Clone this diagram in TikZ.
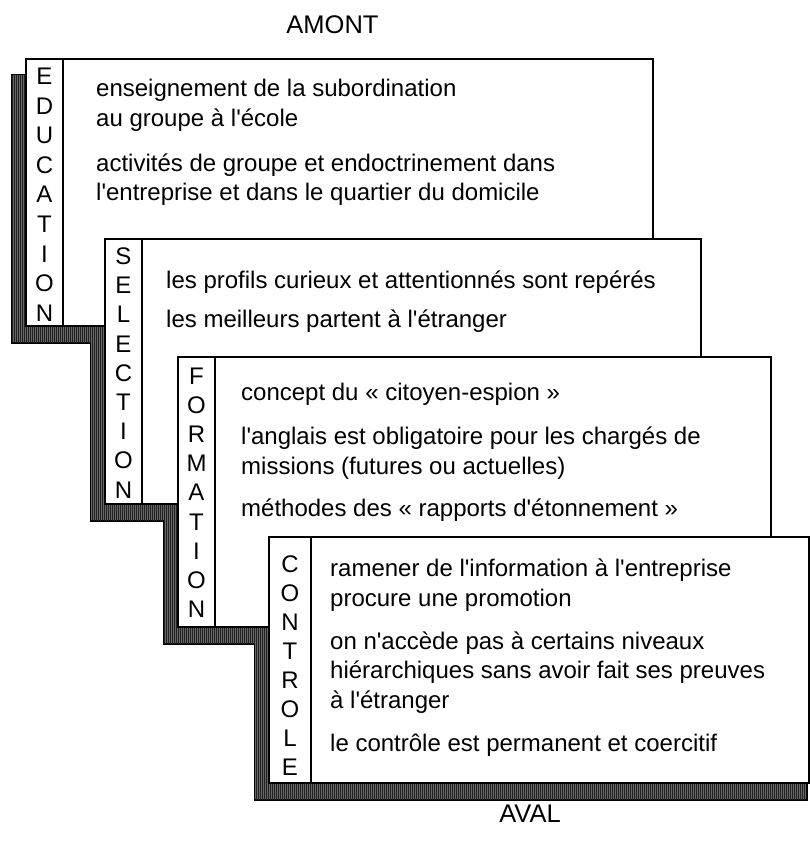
\documentclass[tikz,border=0pt]{standalone}
\usepackage{fontspec}
\newfontfamily\arialike{Liberation Sans}
\usetikzlibrary{patterns.meta}
\definecolor{shadegray}{HTML}{666666}
\definecolor{shadeline}{HTML}{222222}
\begin{document}
\begin{tikzpicture}[x=1pt,y=-1pt,
  cardframe/.style={draw=black, line width=2pt, fill=white},
  colrule/.style={draw=black, line width=1.6pt},
  shadowedge/.style={draw=black, line width=3pt},
  shadowfill/.style={fill=shadegray, postaction={pattern={Lines[angle=90,distance=2pt,line width=1pt]}, pattern color=shadeline}},
  bodyline/.style={anchor=base west, inner sep=0pt, font=\arialike\fontsize{24}{29}\selectfont},
  colletter/.style={anchor=base, inner sep=0pt, font=\arialike\fontsize{24}{29}\selectfont},
  endlabel/.style={anchor=base, inner sep=0pt, font=\arialike\fontsize{25.5}{30}\selectfont},
]
\useasboundingbox (0,0) rectangle (810,841);

% shadows: outlines first, then fills so that overlapping shadows merge
\foreach \l/\t/\r/\b in {26/59/653/326, 105/239/701/504, 178/357/771/627, 269/537/809/783}{
  \path[shadowedge] ({\l-14},{\t+16}) rectangle ({\r-3},{\b+16});
}
\foreach \l/\t/\r/\b in {26/59/653/326, 105/239/701/504, 178/357/771/627, 269/537/809/783}{
  \path[shadowfill] ({\l-14},{\t+16}) rectangle ({\r-3},{\b+16});
}

% EDUCATION card
\path[cardframe] (26,59) rectangle (653,326);
\draw[colrule] (63,59) -- (63,326);
\foreach \ch [count=\i from 0] in {E,D,U,C,A,T,I,O,N}
  \node[colletter] (edu-\i) at (44.5,{84.5+\i*29.6}) {\ch};
\node[bodyline] (edu-a1) at (96,96) {enseignement de la subordination};
\node[bodyline] (edu-a2) at (96,126) {au groupe à l'école};
\node[bodyline] (edu-b1) at (96,171) {activités de groupe et endoctrinement dans};
\node[bodyline] (edu-b2) at (96,200) {l'entreprise et dans le quartier du domicile};

% SELECTION card
\path[cardframe] (105,239) rectangle (701,504);
\draw[colrule] (142,239) -- (142,504);
\foreach \ch [count=\i from 0] in {S,E,L,E,C,T,I,O,N}
  \node[colletter] (sel-\i) at (123.5,{264.5+\i*29.2}) {\ch};
\node[bodyline] (sel-a1) at (166,288) {les profils curieux et attentionnés sont repérés};
\node[bodyline] (sel-b1) at (166,327.5) {les meilleurs partent à l'étranger};

% FORMATION card
\path[cardframe] (178,357) rectangle (771,627);
\draw[colrule] (215,357) -- (215,627);
\foreach \ch [count=\i from 0] in {F,O,R,M,A,T,I,O,N}
  \node[colletter] (for-\i) at (196.5,{384+\i*29.2}) {\ch};
\node[bodyline] (for-a1) at (241,400.5) {concept du «~citoyen-espion~»};
\node[bodyline] (for-b1) at (241,444.5) {l'anglais est obligatoire pour les chargés de};
\node[bodyline] (for-b2) at (241,474) {missions (futures ou actuelles)};
\node[bodyline] (for-c1) at (241,516) {méthodes des «~rapports d'étonnement~»};

% CONTROLE card
\path[cardframe] (269,537) rectangle (809,783);
\draw[colrule] (311,537) -- (311,783);
\foreach \ch [count=\i from 0] in {C,O,N,T,R,O,L,E}
  \node[colletter] (ctl-\i) at (290,{572+\i*29.1}) {\ch};
\node[bodyline] (ctl-a1) at (330,576.5) {ramener de l'information à l'entreprise};
\node[bodyline] (ctl-a2) at (330,606) {procure une promotion};
\node[bodyline] (ctl-b1) at (330,649.5) {on n'accède pas à certains niveaux};
\node[bodyline] (ctl-b2) at (330,678.5) {hiérarchiques sans avoir fait ses preuves};
\node[bodyline] (ctl-b3) at (330,708) {à l'étranger};
\node[bodyline] (ctl-c1) at (330,751.5) {le contrôle est permanent et coercitif};

% upstream / downstream labels
\node[endlabel] (amont) at (332.5,33) {AMONT};
\node[endlabel] (aval) at (530,822) {AVAL};
\end{tikzpicture}
\end{document}
